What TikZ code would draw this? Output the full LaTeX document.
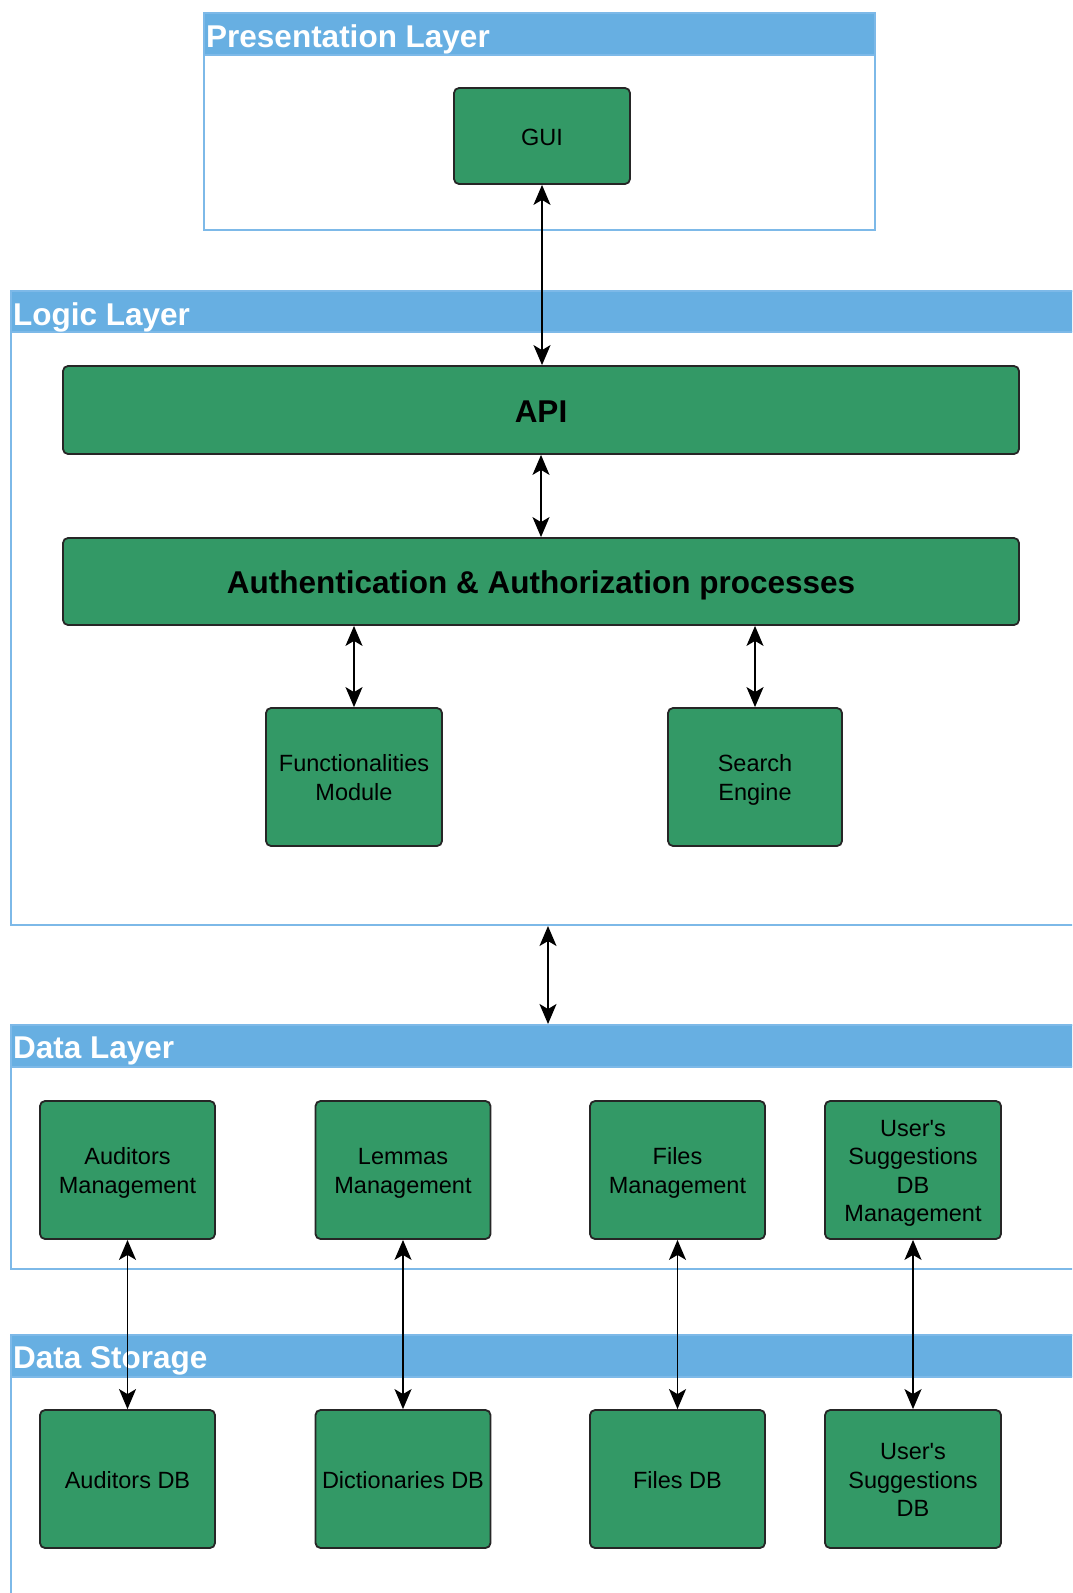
\documentclass[tikz,border=0pt]{standalone}
\usepackage{fontspec}
\setmainfont{Liberation Sans}[Ligatures=TeXOff]
\usetikzlibrary{arrows.meta}
\definecolor{boxgreen}{HTML}{339966}
\definecolor{headblue}{HTML}{67AFE2}
\definecolor{frameblue}{HTML}{7DB9E8}
% a centred stack of label lines, set slightly below the box centre
\newcommand{\boxlines}[1]{\raisebox{-3.5pt}[\height][\depth]{\begin{tabular}{@{}c@{}}#1\end{tabular}}}
\tikzset{
  gbox/.style={draw=black!85, line width=1.8pt, fill=boxgreen, rounded corners=5pt,
    align=center, inner sep=2pt, font=\fontsize{23.5}{28.5}\selectfont,
    execute at begin node={\rule{0pt}{1.0em}},
    execute at end node={\rule[-0.19em]{0pt}{0.19em}}},
  bigbox/.style={gbox, font=\bfseries\fontsize{31.5}{36}\selectfont,
    execute at begin node={\rule{0pt}{0.98em}},
    execute at end node={\rule[-0.18em]{0pt}{0.18em}}},
  layerframe/.style={draw=frameblue, line width=1.5pt},
  layerhead/.style={fill=headblue, draw=frameblue, line width=1.5pt},
  layertitle/.style={anchor=west, text=white, inner sep=0pt,
    font=\bfseries\fontsize{31.5}{36}\selectfont},
  link/.style={line width=1.7pt, {Stealth[length=20pt,width=17pt,inset=5pt]}-{Stealth[length=20pt,width=17pt,inset=5pt]}}
}
\begin{document}
\begin{tikzpicture}[x=1pt,y=-1pt]
\useasboundingbox (0,0) rectangle (1072,1593);
\clip (0,0) rectangle (1072,1593);

% layer frames with title bars
\draw[layerframe] (204,13) rectangle (875,230);
\draw[layerhead] (204,13) rectangle (875,55);
\node[layertitle] (tpres) at (206,39) {Presentation Layer};

\draw[layerframe] (11,291) rectangle (1100,925);
\draw[layerhead] (11,291) rectangle (1100,332);
\node[layertitle] (tlogic) at (13,317) {Logic Layer};

\draw[layerframe] (11,1025) rectangle (1100,1269);
\draw[layerhead] (11,1025) rectangle (1100,1067);
\node[layertitle] (tdata) at (13,1051) {Data Layer};

\draw[layerframe] (11,1335) rectangle (1100,1640);
\draw[layerhead] (11,1335) rectangle (1100,1377);
\node[layertitle] (tstore) at (13,1361) {Data Storage};

% components
\node[gbox, minimum width=176pt, minimum height=96pt] (gui) at (542,136) {GUI};
\node[bigbox, minimum width=956pt, minimum height=88pt] (api) at (541,410) {API};
\node[bigbox, minimum width=956pt, minimum height=87pt] (auth) at (541,581.5) {Authentication \& Authorization processes};
\node[gbox, minimum width=176pt, minimum height=138pt] (func) at (354,777) {\boxlines{Functionalities\\Module}};
\node[gbox, minimum width=174pt, minimum height=138pt] (search) at (755,777) {\boxlines{Search\\Engine}};

\node[gbox, minimum width=175pt, minimum height=138pt] (audm) at (127.5,1170) {\boxlines{Auditors\\Management}};
\node[gbox, minimum width=175pt, minimum height=138pt] (lemm) at (403,1170) {\boxlines{Lemmas\\Management}};
\node[gbox, minimum width=175pt, minimum height=138pt] (film) at (677.5,1170) {\boxlines{Files\\Management}};
\node[gbox, minimum width=176pt, minimum height=138pt] (sugm) at (913,1170) {\boxlines{User's\\Suggestions\\DB\\Management}};

\node[gbox, minimum width=175pt, minimum height=138pt] (auddb) at (127.5,1479) {Auditors DB};
\node[gbox, minimum width=175pt, minimum height=138pt] (dicdb) at (403,1479) {Dictionaries DB};
\node[gbox, minimum width=175pt, minimum height=138pt] (fildb) at (677.5,1479) {Files DB};
\node[gbox, minimum width=176pt, minimum height=138pt] (sugdb) at (913,1479) {\boxlines{User's\\Suggestions\\DB}};

% connectors
\draw[link] (gui.south) -- (gui.south |- api.north);
\draw[link] (api.south) -- (auth.north);
\draw[link] (func.north |- auth.south) -- (func.north);
\draw[link] (search.north |- auth.south) -- (search.north);

\coordinate (logicbottom) at (548,926);
\coordinate (datatop) at (548,1024);
\draw[link] (logicbottom) -- (datatop);

\draw[link] (audm.south) -- (auddb.north);
\draw[link] (lemm.south) -- (dicdb.north);
\draw[link] (film.south) -- (fildb.north);
\draw[link] (sugm.south) -- (sugdb.north);
\end{tikzpicture}
\end{document}
